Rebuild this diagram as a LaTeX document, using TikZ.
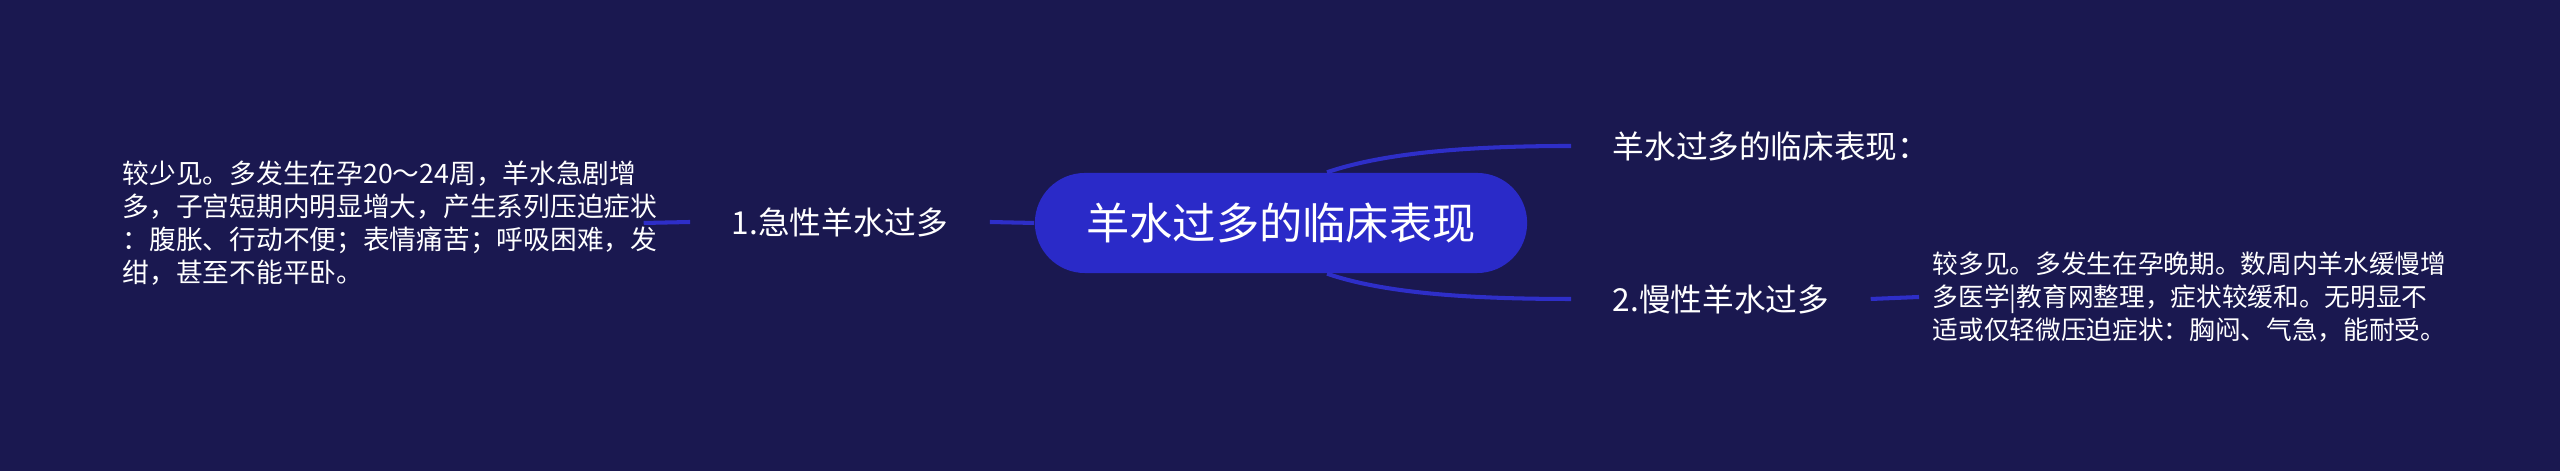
\documentclass[tikz,border=0pt]{standalone}
\usepackage{fontspec}
\newfontfamily\cjk{Noto Sans CJK SC}
\usetikzlibrary{positioning}
\definecolor{bgnavy}{RGB}{26,24,80}
\definecolor{topicblue}{RGB}{42,42,200}
\definecolor{linkblue}{RGB}{46,46,200}

\begin{document}
\begin{tikzpicture}[x=0.01cm, y=-0.01cm]
        % Define styles for the map
        \tikzset{
            topic/.style={fill=topicblue, rounded corners=0.5cm, minimum width=4.92cm, minimum height=1cm, inner sep=0pt, text=white, font=\cjk\fontsize{12.3}{14}\selectfont},
            branch/.style={inner xsep=0.41cm, inner ysep=2pt, text=white, font=\cjk\fontsize{9}{11}\selectfont},
            note/.style={align=left, text=white, font=\cjk\fontsize{7.6}{9.4}\selectfont},
            link/.style={line width=1.15pt, linkblue}
        }

        % Draw the background
        \fill[bgnavy] (0,0) rectangle (2560,471);

        % Central topic
        \node[topic] (center) at (1281,223) {羊水过多的临床表现};

        % Left branch and its note
        \node[branch] (acute) at (840,222) {1.急性羊水过多};
        \node[note, anchor=west, inner xsep=0.25cm, text width=4.95cm] (acutenote) at (97,223) {较少见。多发生在孕20～24周，羊水急剧增\\多，子宫短期内明显增大，产生系列压迫症状\\：腹胀、行动不便；表情痛苦；呼吸困难，发\\绀，甚至不能平卧。};

        % Right branches and note
        \node[branch, anchor=west] (clin) at (1571,146) {羊水过多的临床表现：};
        \node[branch, anchor=west] (chronic) at (1571,299) {2.慢性羊水过多};
        \node[note, anchor=west, inner xsep=0.13cm, text width=5.15cm, font=\cjk\fontsize{7.3}{9.4}\selectfont] (chronicnote) at (1919,297) {较多见。多发生在孕晚期。数周内羊水缓慢增\\多医学|教育网整理，症状较缓和。无明显不\\适或仅轻微压迫症状：胸闷、气急，能耐受。};

        % Connectors
        \draw[link] (center.west) -- (acute.east);
        \draw[link] (acute.west) -- (acutenote.east);
        \draw[link] ([xshift=0.46cm]center.north) .. controls +(53,-18) and +(-113,0) .. (clin.west);
        \draw[link] ([xshift=0.46cm]center.south) .. controls +(53,18) and +(-113,0) .. (chronic.west);
        \draw[link] (chronic.east) -- (chronicnote.west);

    \end{tikzpicture}
\end{document}
